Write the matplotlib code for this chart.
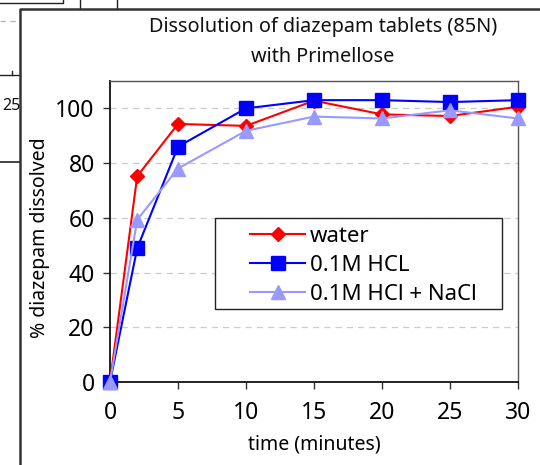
import matplotlib
matplotlib.use("Agg")
import matplotlib.pyplot as plt
from matplotlib.lines import Line2D
from matplotlib.patches import Rectangle

plt.rcParams['font.family'] = ['Noto Sans', 'DejaVu Sans']

time_min = [0, 2, 5, 10, 15, 20, 25, 30]
water = [0, 75.2, 94.3, 93.6, 102.8, 97.8, 97.2, 100.6]
hcl = [0, 48.9, 86.0, 100.0, 103.0, 103.0, 102.3, 103.0]
hcl_nacl = [0, 59.3, 78.0, 91.8, 97.0, 96.3, 99.3, 96.3]
series_labels = ["water", "0.1M HCL", "0.1M HCl + NaCl"]
title_text = "Dissolution of diazepam tablets (85N)\nwith Primellose"
x_ticks = [0, 5, 10, 15, 20, 25, 30]
y_ticks = [0, 20, 40, 60, 80, 100]

W, H = 540, 465
fig = plt.figure(figsize=(W / 100, H / 100), dpi=100)


def fx(x):
    return x / W


def fy(y):
    return 1 - y / H


def fline(xs, ys, **kw):
    fig.add_artist(Line2D([fx(v) for v in xs], [fy(v) for v in ys],
                          transform=fig.transFigure, **kw))


# background artifacts (other chart behind)
fline([0, 63, 63], [3, 3, 0], color="#222222", lw=1.0)
fline([79.5, 79.5], [0, 9], color="#222222", lw=1.0)
fline([117, 117], [0, 9], color="#222222", lw=1.0)
fline([0, 17], [21, 21], color="#bbbbbb", lw=1.0, ls=(0, (4, 3)))
fline([0, 20], [75, 75], color="#222222", lw=1.0)
fline([12, 12], [75, 71], color="#222222", lw=1.0)
fline([0, 20], [162, 162], color="#222222", lw=1.2)
fig.text(fx(2), fy(106), "25", ha="left", va="center", fontsize=11.5, color="#111111")

# chart frame
fline([20, 20, 540], [465, 9.5, 9.5], color="#333333", lw=1.8)

ax = fig.add_axes([fx(110), fy(382), fx(518) - fx(110), fy(81) - fy(382)])

ax.plot(time_min, water, color="#ff0000", marker="D", markersize=7, lw=1.5,
        label=series_labels[0], zorder=3, clip_on=False)
ax.plot(time_min, hcl, color="#0000ff", marker="s", markersize=10, lw=1.5,
        label=series_labels[1], zorder=4, clip_on=False)
ax.plot(time_min, hcl_nacl, color="#9999ff", marker="^", markersize=10, lw=1.5,
        label=series_labels[2], zorder=5, clip_on=False)

ax.set_xlim(0, 30)
ax.set_ylim(0, 110)
ax.set_xticks(x_ticks)
ax.set_yticks(y_ticks)
ax.tick_params(axis="both", labelsize=16.5, direction="out", length=5, width=1,
               color="#333333")
ax.tick_params(axis="x", pad=9)
ax.tick_params(axis="y", pad=6)
ax.yaxis.grid(True, color="#cccccc", ls=(0, (5, 4)), lw=0.9)
ax.set_axisbelow(True)
for s in ["left", "bottom"]:
    ax.spines[s].set_color("#111111")
    ax.spines[s].set_linewidth(1.3)
for s in ["top", "right"]:
    ax.spines[s].set_color("#555555")
    ax.spines[s].set_linewidth(1.0)

ax.set_xlabel("time (minutes)", fontsize=14)
ax.set_ylabel("% diazepam dissolved", fontsize=14)
ax.xaxis.set_label_coords(0.5, (382 - 444) / 301)
ax.yaxis.set_label_coords((40 - 110) / 408, 0.48)
ax.xaxis.label.set_va("center")
ax.yaxis.label.set_va("center")

fig.text(fx(323), fy(42), title_text, ha="center", va="center", fontsize=14.3,
         linespacing=1.72, color="#111111")

# legend
ax.add_patch(Rectangle(((215 - 110) / 408, (382 - 309) / 301), (502 - 215) / 408,
                       (309 - 218) / 301, transform=ax.transAxes, fill=True,
                       facecolor="white", edgecolor="#222222", lw=1.0, zorder=6))
leg = ax.legend(loc="upper left", bbox_to_anchor=((250 - 110) / 408, (382 - 226) / 301),
                fontsize=16, frameon=False, borderpad=0, handlelength=2.48,
                handletextpad=0.22, labelspacing=0.36, borderaxespad=0)
leg.set_zorder(7)

fig.savefig("out.png", dpi=100)
